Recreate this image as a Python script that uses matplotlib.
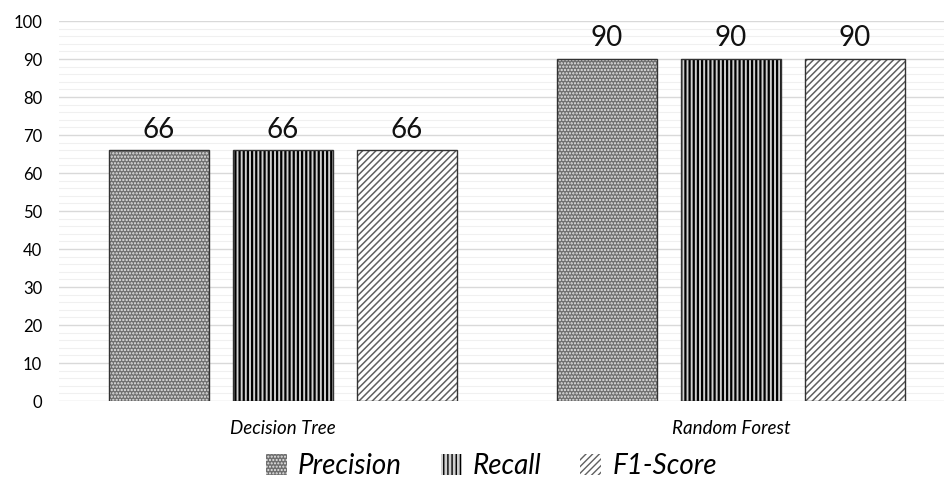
import matplotlib
matplotlib.use('Agg')
import matplotlib.pyplot as plt
import numpy as np

models = ['Decision Tree', 'Random Forest']
precision = [66, 90]
recall = [66, 90]
f1_score = [66, 90]

series = [
    ('Precision', precision, '#6f6f6f', '#e8e8e8', '.....'),
    ('Recall', recall, '#d0d0d0', 'black', '||||'),
    ('F1-Score', f1_score, 'white', '#606060', '/////'),
]

plt.rcParams['font.family'] = ['Lato', 'DejaVu Sans']

fig = plt.figure(figsize=(9.45, 4.79), dpi=100)
ax = fig.add_axes([0.0624, 0.1628, 0.9376, 0.7933])

x = np.arange(len(models))
w = 0.223
step = 0.277

handles = []
for i, (name, vals, face, hcol, hatch) in enumerate(series):
    pos = x + (i - 1) * step
    with plt.rc_context({'hatch.color': hcol, 'hatch.linewidth': 1.6 if name == 'Recall' else 1.1}):
        b = ax.bar(pos, vals, w, color=face, edgecolor=None, linewidth=0,
                   hatch=hatch, label=name, zorder=3)
    ax.bar(pos, vals, w, facecolor='none', edgecolor='#333333', linewidth=1.0, zorder=4)
    handles.append(b)
    for p, v in zip(pos, vals):
        ax.text(p, v + 2.0, str(v), ha='center', va='bottom', fontsize=20, color='#111111')

ax.set_ylim(0, 100)
ax.set_xlim(-0.5, 1.478)
ax.set_yticks(range(0, 101, 10))
ax.set_yticks(range(0, 101, 2), minor=True)
ax.grid(axis='y', which='major', color='#d9d9d9', linewidth=1.0, zorder=0)
ax.grid(axis='y', which='minor', color='#f0f0f0', linewidth=0.8, zorder=0)
ax.set_xticks(x)
ax.set_xticklabels(models, fontsize=13.5, style='italic')
ax.tick_params(axis='both', which='both', length=0)
ax.tick_params(axis='y', labelsize=12, pad=12)
ax.tick_params(axis='x', pad=14)
for s in ax.spines.values():
    s.set_visible(False)

fig.legend(handles=handles, loc='center', bbox_to_anchor=(0.52, 0.027), ncol=3,
           frameon=False, prop={'size': 20, 'style': 'italic'},
           handlelength=0.75, handleheight=0.75, handletextpad=0.4, columnspacing=1.4)

fig.savefig('out.png', dpi=100)
